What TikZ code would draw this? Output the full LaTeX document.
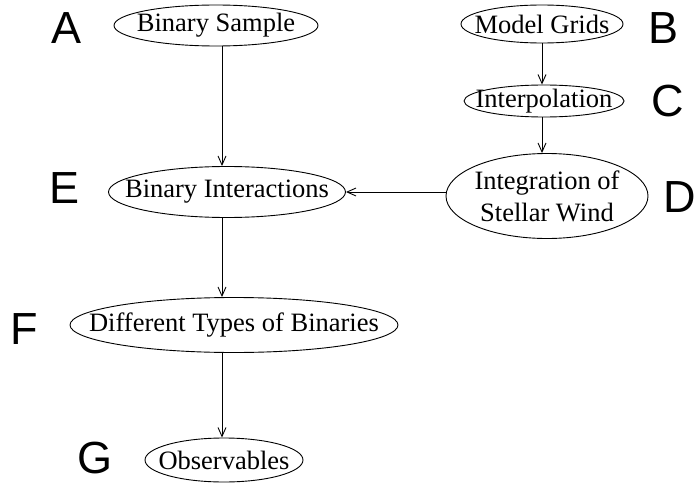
\documentclass[tikz,border=0pt]{standalone}
\usepackage{fontspec}
\setmainfont{Liberation Serif}
\newfontfamily\letterfont{Liberation Sans}
\usetikzlibrary{arrows.meta}
\usetikzlibrary{shapes.geometric}

\begin{document}
\begin{tikzpicture}[x=1pt, y=-1pt, ->, >={Straight Barb[length=9pt,width=8pt]}, line width=0.9pt,
    main/.style = {draw, ellipse, inner xsep=-40pt, inner ysep=-12pt, font=\fontsize{26.5}{32}\selectfont, align=center},
    letter/.style = {font=\letterfont\fontsize{45}{45}\selectfont}]
    \useasboundingbox (0,0) rectangle (699,487);
    % Nodes

    \node[main, minimum width=204pt, minimum height=41pt] (bs) at (216, 25.5) {Binary Sample};
    \node[main, minimum width=162pt, minimum height=38pt] (mg) at (542, 24) {Model Grids};
    \node[main, minimum width=160pt, minimum height=32pt] (ip) at (544, 101) {Interpolation};
    \node[main, minimum width=202pt, minimum height=85pt] (iw) at (547, 196) {Integration of\\Stellar Wind};
    \node[main, minimum width=237pt, minimum height=51pt] (bi) at (227, 192) {Binary Interactions};
    \node[main, minimum width=328pt, minimum height=55pt] (dt) at (234, 325) {Different Types of Binaries};
    \node[main, minimum width=158pt, minimum height=44pt] (ob) at (224, 460) {Observables};

    \node[letter] (la) at (67, 28) {A};
    \node[letter] (lb) at (664, 28) {B};
    \node[letter] (lc) at (668, 101) {C};
    \node[letter] (ld) at (680, 197) {D};
    \node[letter] (le) at (65, 188) {E};
    \node[letter] (lf) at (24, 329) {F};
    \node[letter] (lg) at (95, 458) {G};

    \coordinate (lx) at (222, 0);
    \coordinate (rx) at (542, 0);

    % Edges

    \draw (bs.south -| lx) -- (bi.north -| lx);
    \draw (mg.south -| rx) -- (ip.north -| rx);
    \draw (ip.south -| rx) -- (iw.north -| rx);
    \draw (iw.west |- bi.east) -- (bi.east);
    \draw (bi.south -| lx) -- (dt.north -| lx);
    \draw (dt.south -| lx) -- (ob.north -| lx);

\end{tikzpicture}
\end{document}
